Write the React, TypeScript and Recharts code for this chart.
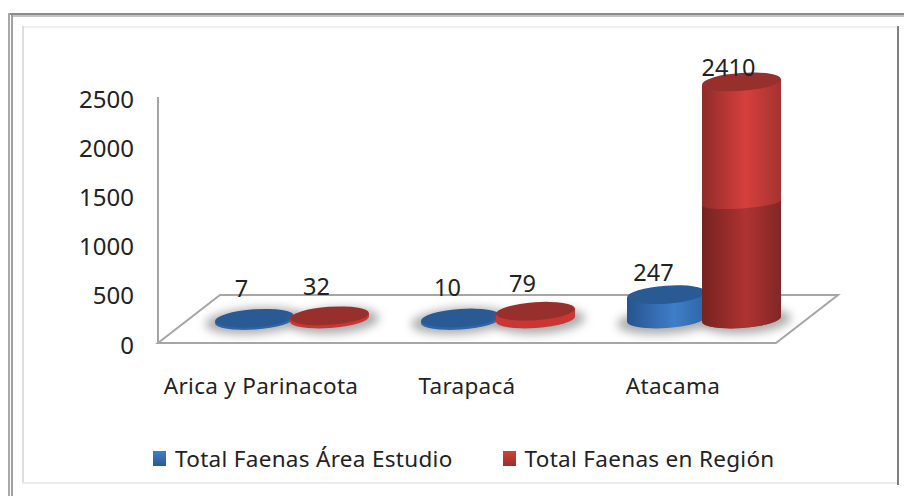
import React from "react";
import { BarChart, Bar, XAxis, YAxis, LabelList, Legend, ReferenceArea } from "recharts";

const categories = ["Arica y Parinacota", "Tarapacá", "Atacama"];
const areaEstudio = [7, 10, 247];
const enRegion = [32, 79, 2410];
const yTicks = [0, 500, 1000, 1500, 2000, 2500];
const seriesNames = ["Total Faenas Área Estudio", "Total Faenas en Región"];
const rows = categories.map((name, i) => ({ name, a: areaEstudio[i], b: enRegion[i] }));

const FONT = "'Noto Sans', sans-serif";
const DEPTH_X = 31;
const DEPTH_Y = 24;
const RY = 9;
const TILT = -4;

function Cylinder(props: any) {
  const { x, y, width, height, grad, darkGrad, top, rim, shadowShift } = props;
  const cx = x + width / 2 + DEPTH_X;
  const rx = width / 2;
  const by = y + height - DEPTH_Y;
  const ty = y - DEPTH_Y;
  const d = rx * Math.sin((-TILT * Math.PI) / 180);
  const side = (t: number, b: number) =>
    `M${cx - rx},${b + d} L${cx - rx},${t + d} L${cx + rx},${t - d} L${cx + rx},${b - d} A${rx},${RY} ${TILT} 0 1 ${cx - rx},${b + d} Z`;
  const lower = (t: number, b: number) =>
    `M${cx - rx},${b + d} L${cx - rx},${t + d} A${rx},${RY * 0.6} ${TILT} 0 0 ${cx + rx},${t - d} L${cx + rx},${b - d} A${rx},${RY} ${TILT} 0 1 ${cx - rx},${b + d} Z`;
  const tall = height > 150;
  const splitY = by - 116;
  return (
    <g>
      <ellipse
        cx={cx + shadowShift}
        cy={by + 2}
        rx={rx + 10 - Math.abs(shadowShift)}
        ry={RY + 4}
        fill="#777"
        opacity={0.6}
        filter="url(#cylShadow)"
        transform={`rotate(${TILT} ${cx} ${by})`}
      />
      <path d={side(ty, by + (height < 3 ? 1.5 : 0))} fill={height < 12 ? rim : `url(#${grad})`} />
      {tall && <path d={lower(splitY, by)} fill={`url(#${darkGrad})`} />}
      <ellipse cx={cx} cy={ty} rx={rx} ry={RY} fill={top} transform={`rotate(${TILT} ${cx} ${ty})`} />
    </g>
  );
}

function Floor(props: any) {
  const { x, y, width, height } = props;
  const pts = [
    [x, y + height],
    [x + width, y + height],
    [x + width + 62, y],
    [x + 62, y],
  ]
    .map((p) => p.join(","))
    .join(" ");
  return <polygon points={pts} fill="#fff" stroke="#a6a6a6" strokeWidth={2} />;
}

function ValueLabel(props: any) {
  const { x, y, width, height, value } = props;
  const lift = 39 + Math.max(0, 16 - height * 0.35);
  return (
    <text
      x={x + width / 2 + DEPTH_X - 13}
      y={y - lift}
      textAnchor="middle"
      dominantBaseline="central"
      fontFamily={FONT}
      fontSize={23.5}
      fill="#222"
    >
      {value}
    </text>
  );
}

function LegendBox() {
  const item = (label: string, bg: string, ml: number) => (
    <div style={{ display: "flex", alignItems: "center", marginLeft: ml }}>
      <span style={{ width: 13, height: 15, background: bg, marginRight: 9, display: "inline-block" }} />
      <span style={{ fontFamily: FONT, fontSize: 22.5, letterSpacing: 0.3, color: "#222", whiteSpace: "nowrap" }}>{label}</span>
    </div>
  );
  return (
    <div style={{ display: "flex" }}>
      {item(seriesNames[0], "linear-gradient(#3f7ec8,#2a5a93)", 0)}
      {item(seriesNames[1], "linear-gradient(#d43f3c,#97302d)", 50)}
    </div>
  );
}

const line = (left: number, top: number, width: number, height: number, background: string) => (
  <div style={{ position: "absolute", left, top, width, height, background }} />
);

export default function App() {
  return (
    <div style={{ position: "absolute", left: 0, top: 0, width: 904, height: 496, background: "#fff", overflow: "hidden" }}>
      {line(8, 13, 896, 2, "#8c8c8c")}
      {line(11, 15, 893, 2, "#c4c4c4")}
      {line(8, 13, 2, 483, "#a8a8a8")}
      {line(11, 15, 2, 481, "#a0a0a0")}
      {line(22, 26, 875, 1.5, "#f0f0f0")}
      {line(22, 26, 1.5, 458, "#dedede")}
      {line(22, 482, 876, 2, "#ebebeb")}
      {line(897, 26, 2, 459, "#808080")}
      <div style={{ position: "absolute", left: 0, top: 0 }}>
        <BarChart
          width={904}
          height={496}
          data={rows}
          margin={{ top: 97, right: 128, bottom: 110, left: 80 }}
          barSize={79}
          barGap={-4}
        >
          <defs>
            <filter id="cylShadow" x="-30%" y="-80%" width="160%" height="260%">
              <feGaussianBlur stdDeviation="5" />
            </filter>
            <linearGradient id="blueSide" x1="0" x2="1" y1="0" y2="0">
              <stop offset="0" stopColor="#255490" />
              <stop offset="0.6" stopColor="#3f7ec8" />
              <stop offset="1" stopColor="#2d64a8" />
            </linearGradient>
            <linearGradient id="redSide" x1="0" x2="1" y1="0" y2="0">
              <stop offset="0" stopColor="#8f2c2a" />
              <stop offset="0.55" stopColor="#d63f3c" />
              <stop offset="1" stopColor="#a33331" />
            </linearGradient>
            <linearGradient id="redDark" x1="0" x2="1" y1="0" y2="0">
              <stop offset="0" stopColor="#752321" />
              <stop offset="0.55" stopColor="#ae3331" />
              <stop offset="1" stopColor="#812725" />
            </linearGradient>
          </defs>
          <ReferenceArea y1={0} y2={488} shape={<Floor />} ifOverflow="visible" />
          <XAxis
            dataKey="name"
            axisLine={{ stroke: "#a6a6a6", strokeWidth: 2 }}
            tickLine={false}
            height={43}
            tick={{ fontFamily: FONT, fontSize: 22.5, letterSpacing: 0.3, fill: "#222" }}
            tickMargin={29}
          />
          <YAxis
            width={78}
            domain={[0, 2500]}
            ticks={yTicks}
            axisLine={{ stroke: "#a6a6a6", strokeWidth: 2 }}
            tickLine={false}
            tick={{ fontFamily: FONT, fontSize: 24, fill: "#222", dy: 2 }}
            tickMargin={18}
          />
          <Bar
            dataKey="a"
            name={seriesNames[0]}
            fill="#3f7ec8"
            isAnimationActive={false}
            shape={<Cylinder grad="blueSide" darkGrad="blueSide" top="#2a5a93" rim="#2f66aa" shadowShift={0} />}
          >
            <LabelList dataKey="a" content={<ValueLabel />} />
          </Bar>
          <Bar
            dataKey="b"
            name={seriesNames[1]}
            fill="#d43f3c"
            isAnimationActive={false}
            shape={<Cylinder grad="redSide" darkGrad="redDark" top="#97302d" rim="#c93633" shadowShift={5} />}
          >
            <LabelList dataKey="b" content={<ValueLabel />} />
          </Bar>
          <Legend
            verticalAlign="middle"
            content={<LegendBox />}
            wrapperStyle={{ top: 443, left: 153, width: 740, bottom: "auto" }}
          />
        </BarChart>
      </div>
    </div>
  );
}
